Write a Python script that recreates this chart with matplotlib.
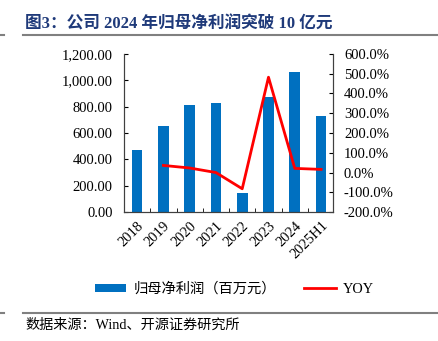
import numpy as np
import matplotlib.pyplot as plt
from matplotlib.lines import Line2D
from matplotlib.patches import Patch
from matplotlib.ticker import FuncFormatter, FixedLocator

plt.rcParams['font.family'] = ['Liberation Serif', 'Noto Sans CJK SC']
plt.rcParams['axes.unicode_minus'] = False

# data
years = ['2018', '2019', '2020', '2021', '2022', '2023', '2024', '2025H1']
profit = [473, 656, 815, 825, 147, 876, 1066, 732]   # 百万元
yoy = [None, 36, 23, 0, -82, 482, 21, 16]  # %

bar_color = '#0070C0'
line_color = '#FF0000'

fig = plt.figure(figsize=(4.38, 3.41), dpi=100)
ax = fig.add_axes([0.283, 0.378, 0.477, 0.464])
x = np.arange(len(years))

ax.bar(x, profit, width=0.41, color=bar_color, zorder=2)
ax.set_xlim(-0.5, 7.45)
ax.set_ylim(0, 1200)
ax.set_yticks(np.arange(0, 1201, 200))
ax.yaxis.set_major_formatter(FuncFormatter(lambda v, p: f'{v:,.2f}'))
ax.tick_params(axis='y', direction='in', length=3, labelsize=10.5, pad=8)
ax.set_xticks(x)
ax.set_xticklabels(years, rotation=45, ha='right', rotation_mode='anchor', fontsize=10.5)
ax.tick_params(axis='x', which='major', length=0, pad=5)
ax.xaxis.set_minor_locator(FixedLocator(x[:-1] + 0.5))
ax.tick_params(axis='x', which='minor', direction='in', length=3)
for s in ax.spines.values():
    s.set_color('#404040')
ax.spines['top'].set_visible(False)

ax2 = ax.twinx()
xi = [i for i, v in enumerate(yoy) if v is not None]
yi = [v for v in yoy if v is not None]
ax2.plot(xi, yi, color=line_color, lw=2, zorder=3)
ax2.set_ylim(-200, 600)
ax2.set_yticks(np.arange(-200, 601, 100))
ax2.yaxis.set_major_formatter(FuncFormatter(lambda v, p: f'{v:.1f}%'))
ax2.tick_params(axis='y', direction='in', length=3, labelsize=10.5, pad=8)
ax2.spines['top'].set_visible(False)
for s in ax2.spines.values():
    s.set_color('#404040')

# legend
handles = [Patch(facecolor=bar_color, edgecolor='none'),
           Line2D([], [], color=line_color, lw=2)]
fig.legend(handles, ['归母净利润（百万元）', 'YOY'], loc='center',
           bbox_to_anchor=(0.535, 0.152), ncol=2, frameon=False,
           fontsize=10.3, handlelength=2.2, handleheight=0.5,
           columnspacing=2.0, handletextpad=0.5)

# title, source and separator lines
fig.text(0.057, 0.93, '图3：公司 2024 年归母净利润突破 10 亿元', fontsize=12,
         fontweight='bold', color='#1F3A7A', va='center')
fig.text(0.057, 0.047, '数据来源：Wind、开源证券研究所', fontsize=10.2,
         color='#000000', va='center')
for yy in (1 - 35 / 341, 1 - 313 / 341):
    fig.add_artist(Line2D([0.052, 1.0], [yy, yy], color='#808080', lw=1.5))
    fig.add_artist(Line2D([0.0, 0.008], [yy, yy], color='#808080', lw=1.5))

fig.savefig('out.png', dpi=100)
